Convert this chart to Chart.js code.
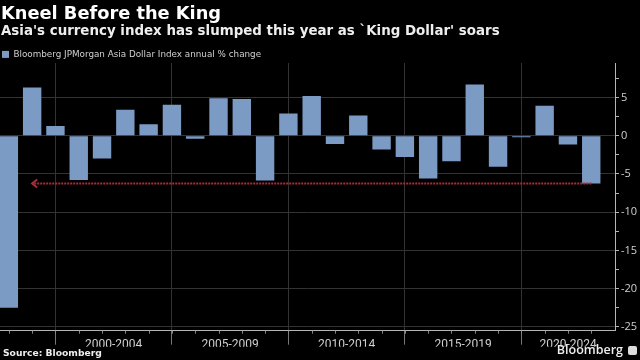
<!DOCTYPE html>
<html>
<head>
<meta charset="utf-8">
<title>Kneel Before the King</title>
<script src="https://cdn.jsdelivr.net/npm/chart.js@4.4.1/dist/chart.umd.min.js"></script>
<style>
    html, body { margin: 0; padding: 0; background: #000; }
    body { width: 640px; height: 360px; position: relative; overflow: hidden; font-family: 'DejaVu Sans', sans-serif; }
    .chart-box { position: absolute; left: 0; top: 0; width: 640px; height: 360px; }
    .title { position: absolute; left: 1px; top: 4.2px; color: #fff; font-weight: 700; font-size: 17.8px; line-height: 17.8px; white-space: nowrap; }
    .subtitle { position: absolute; left: 1px; top: 23.7px; color: #eee; font-weight: 700; font-size: 13.4px; line-height: 13.4px; white-space: nowrap; }
    .source { position: absolute; left: 3px; top: 348.2px; color: #eee; font-weight: 700; font-size: 9.2px; line-height: 9.2px; white-space: nowrap; }
    .brand { position: absolute; right: 3px; top: 343px; color: #eee; font-family: 'Open Sans', sans-serif; font-weight: 600; font-size: 12.5px; line-height: 14px; white-space: nowrap; }
    .brand .mark { display: inline-block; width: 9px; height: 9px; background: #ddd; border-radius: 2px; margin-left: 5px; vertical-align: -1px; }
</style>
</head>
<body>
<div class="chart-box"><canvas id="kingChart"></canvas></div>
<div class="title">Kneel Before the King</div>
<div class="subtitle">Asia's currency index has slumped this year as `King Dollar' soars</div>
<div class="source">Source: Bloomberg</div>
<div class="brand">Bloomberg<span class="mark"></span></div>

<script>
const seriesName = 'Bloomberg JPMorgan Asia Dollar Index annual % change';

const years = [1997, 1998, 1999, 2000, 2001, 2002, 2003, 2004, 2005, 2006, 2007, 2008, 2009,
               2010, 2011, 2012, 2013, 2014, 2015, 2016, 2017, 2018, 2019, 2020, 2021, 2022];

const changes = [-22.5, 6.3, 1.25, -5.8, -3.0, 3.4, 1.5, 4.05, -0.4, 4.9, 4.8, -5.85, 2.9,
                 5.2, -1.1, 2.65, -1.8, -2.8, -5.6, -3.35, 6.7, -4.05, -0.2, 3.9, -1.15, -6.25];

const periods = ['2000-2004', '2005-2009', '2010-2014', '2015-2019', '2020-2024'];
const periodStarts = [2000, 2005, 2010, 2015, 2020];

const yMajor = [-25, -20, -15, -10, -5, 0, 5];

// arrow runs from the latest year back to this one, at the latest value
const arrowBackTo = 1998;

const barColor = '#7b9ac4';
const gridColor = '#333';
const axisColor = '#b5b5b5';
const textColor = '#d0d0d0';

Chart.defaults.font.family = "'Open Sans', sans-serif";

function isMajor(v) {
    return yMajor.some(function(m) { return Math.abs(m - v) < 1e-6; });
}

const extras = {
    id: 'extras',
    afterDatasetsDraw: function(chart) {
        const ctx = chart.ctx;
        const x = chart.scales.x;
        const y = chart.scales.y;
        const area = chart.chartArea;

        // small marks for every year on the x axis
        ctx.save();
        ctx.strokeStyle = '#888';
        ctx.lineWidth = 1;
        years.forEach(function(yr) {
            const px = Math.round(x.getPixelForValue(yr)) + 0.5;
            ctx.beginPath();
            ctx.moveTo(px, area.bottom);
            ctx.lineTo(px, area.bottom + 3);
            ctx.stroke();
        });

        // red dotted arrow at this year's level
        const last = changes.length - 1;
        const ay = Math.round(y.getPixelForValue(changes[last])) + 0.5;
        const x0 = x.getPixelForValue(years[last]);
        const x1 = x.getPixelForValue(arrowBackTo);
        ctx.strokeStyle = '#a3303c';
        ctx.lineWidth = 2;
        ctx.setLineDash([2, 1]);
        ctx.beginPath();
        ctx.moveTo(x0, ay);
        ctx.lineTo(x1, ay);
        ctx.stroke();
        ctx.setLineDash([]);
        ctx.beginPath();
        ctx.moveTo(x1 + 5, ay - 4);
        ctx.lineTo(x1, ay);
        ctx.lineTo(x1 + 5, ay + 4);
        ctx.stroke();
        ctx.restore();
    }
};

new Chart(document.getElementById('kingChart').getContext('2d'), {
    type: 'bar',
    data: {
        datasets: [{
            label: seriesName,
            data: years.map(function(yr, i) { return { x: yr, y: changes[i] }; }),
            backgroundColor: barColor,
            borderWidth: 0,
            barPercentage: 0.79,
            categoryPercentage: 1
        }]
    },
    options: {
        responsive: true,
        maintainAspectRatio: false,
        animation: false,
        devicePixelRatio: 1,
        layout: { padding: { top: 48, left: 0, right: 2, bottom: 13.3 } },
        plugins: {
            legend: {
                position: 'top',
                align: 'start',
                maxHeight: 15,
                labels: {
                    boxWidth: 7,
                    boxHeight: 7,
                    padding: 2,
                    color: textColor,
                    font: { size: 8.8, family: "'DejaVu Sans', sans-serif" }
                }
            },
            tooltip: { enabled: false }
        },
        scales: {
            x: {
                type: 'linear',
                min: 1996.62,
                max: 2023.02,
                offset: false,
                afterBuildTicks: function(scale) {
                    const ticks = [];
                    periodStarts.forEach(function(start, i) {
                        const sep = start - 1;
                        const end = Math.min(start + 4, scale.max);
                        ticks.push({ value: sep });
                        ticks.push({ value: (sep + end) / 2, name: periods[i] });
                    });
                    scale.ticks = ticks;
                },
                afterFit: function(scale) { scale.height = 16; },
                grid: {
                    offset: false,
                    color: function(c) { return c.tick && c.tick.name ? 'rgba(0,0,0,0)' : gridColor; },
                    tickColor: function(c) { return c.tick && c.tick.name ? 'rgba(0,0,0,0)' : '#777'; },
                    tickLength: 14
                },
                border: { display: true, color: axisColor },
                ticks: {
                    autoSkip: false,
                    maxRotation: 0,
                    padding: -7,
                    color: textColor,
                    font: { size: 12, family: 'Roboto, sans-serif' },
                    callback: function(value, index, ticks) {
                        return ticks[index].name || '';
                    }
                }
            },
            y: {
                position: 'right',
                min: -25.5,
                max: 9.5,
                afterBuildTicks: function(scale) {
                    const ticks = [];
                    yMajor.forEach(function(m) {
                        ticks.push({ value: m });
                        if (m + 2.5 <= scale.max) ticks.push({ value: m + 2.5 });
                    });
                    scale.ticks = ticks;
                },
                afterFit: function(scale) { scale.width = 23; },
                grid: {
                    color: function(c) { return c.tick && isMajor(c.tick.value) ? gridColor : 'rgba(0,0,0,0)'; },
                    tickColor: axisColor,
                    tickLength: 4
                },
                border: { display: true, color: axisColor },
                ticks: {
                    padding: 2,
                    color: textColor,
                    font: { size: 11 },
                    callback: function(value) {
                        return isMajor(value) ? String(value) : '';
                    }
                }
            }
        }
    },
    plugins: [extras]
});
</script>
</body>
</html>
